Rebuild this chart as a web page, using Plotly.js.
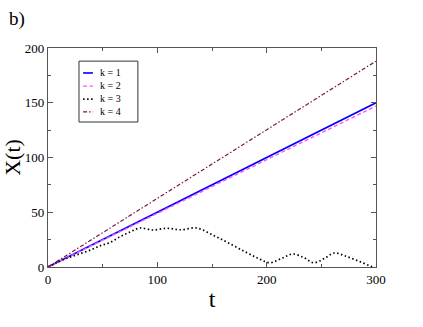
<!DOCTYPE html>
<html>
<head>
<meta charset="utf-8">
<script src="https://cdn.plot.ly/plotly-3.0.1.min.js"></script>
<style>
  html, body { margin: 0; padding: 0; background: #fff; }
  #grafico { width: 423px; height: 327px; }
</style>
</head>
<body>
<div id="grafico"></div>
<script>
// series X(t) for each k
const tLineal = [0, 300];
const xK1 = [0, 150];
const xK2 = [0, 147];
const xK4 = [0, 188];

const tK3 = [0, 10, 20, 29, 40, 48, 56, 66, 75, 84, 96, 109, 121, 136, 151, 165, 180, 192, 203, 214, 224, 234, 243, 253, 262, 272, 285, 297, 300];
const xK3 = [0, 5, 9, 12, 16, 19.5, 22, 27.7, 32, 35.6, 33.8, 35.4, 34, 35.6, 29, 22, 14, 8, 3.9, 8, 11.9, 8.5, 3.9, 8, 12.8, 10, 5, 0, -1];

const nombres = ['k = 1', 'k = 2', 'k = 3', 'k = 4'];
const serif = '"Times New Roman", "Liberation Serif", Times, "DejaVu Serif", serif';

const trazas = [
  { x: tLineal, y: xK1, name: nombres[0], mode: 'lines', line: { color: '#0000ff', width: 1.6 } },
  { x: tLineal, y: xK2, name: nombres[1], mode: 'lines', line: { color: '#ff55ff', width: 1.4, dash: '4px,2.5px' } },
  { x: tK3, y: xK3, name: nombres[2], mode: 'lines', line: { color: '#000000', width: 1.7, dash: '1.5px,2.5px', shape: 'spline' } },
  { x: tLineal, y: xK4, name: nombres[3], mode: 'lines', line: { color: '#7a1650', width: 1.2, dash: '4px,2px,1.5px,2px' } }
];

// leyenda dibujada a mano (la nativa de plotly es demasiado alta por entrada)
const leyenda = { x0: 0.0945, x1: 0.274, y0: 0.662, y1: 0.94, lx0: 0.107, lx1: 0.137, tx: 0.155, ys: [0.886, 0.826, 0.767, 0.708] };
const formas = [
  { type: 'rect', xref: 'paper', yref: 'paper', x0: leyenda.x0, x1: leyenda.x1, y0: leyenda.y0, y1: leyenda.y1,
    line: { color: '#333', width: 1 }, fillcolor: '#fff', layer: 'above' }
];
trazas.forEach((tr, i) => {
  formas.push({ type: 'line', xref: 'paper', yref: 'paper', x0: leyenda.lx0, x1: leyenda.lx1, y0: leyenda.ys[i], y1: leyenda.ys[i],
    line: { color: tr.line.color, width: tr.line.width, dash: tr.line.dash || 'solid' }, layer: 'above' });
});
const notas = [
  { text: 'b)', xref: 'paper', yref: 'paper', x: -0.125, y: 1.19, xanchor: 'left', yanchor: 'top',
    showarrow: false, font: { family: serif, size: 19 } },
  { text: nombres.join('<br>'), xref: 'paper', yref: 'paper', x: leyenda.tx,
    y: (leyenda.ys[0] + leyenda.ys[3]) / 2, xanchor: 'left', yanchor: 'middle', align: 'left',
    showarrow: false, borderpad: 0, font: { family: serif, size: 10 } }
];

const ejeComun = {
  showgrid: false,
  zeroline: false,
  showline: true,
  mirror: 'ticks',
  linecolor: '#555',
  linewidth: 1.2,
  ticks: 'inside',
  ticklen: 5,
  tickcolor: '#555',
  tickfont: { family: serif, size: 13, color: '#000' }
};

const layout = {
  width: 423,
  height: 327,
  margin: { l: 48, r: 47, t: 48, b: 60 },
  paper_bgcolor: '#fff',
  plot_bgcolor: '#fff',
  font: { family: serif, color: '#000' },
  xaxis: Object.assign({}, ejeComun, {
    range: [0, 300],
    dtick: 100,
    minor: { dtick: 50, ticks: 'inside', ticklen: 3, tickcolor: '#555' },
    title: { text: 't', font: { family: serif, size: 24 }, standoff: 4 }
  }),
  yaxis: Object.assign({}, ejeComun, {
    range: [0, 200],
    dtick: 50,
    minor: { dtick: 25, ticks: 'inside', ticklen: 3, tickcolor: '#555' },
    title: { text: 'X(t)', font: { family: serif, size: 22 }, standoff: 6 }
  }),
  showlegend: false,
  shapes: formas,
  annotations: notas
};

Plotly.newPlot('grafico', trazas, layout, { displayModeBar: false, staticPlot: true });
</script>
</body>
</html>
